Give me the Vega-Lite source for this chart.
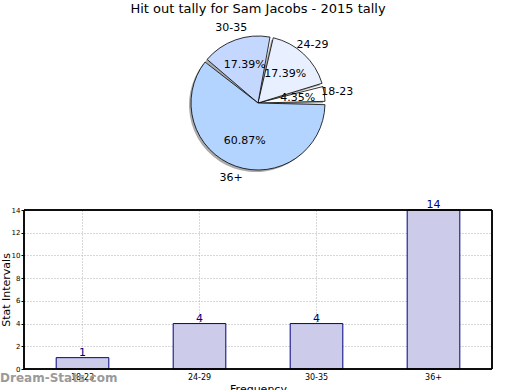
{
  "$schema": "https://vega.github.io/schema/vega-lite/v6.json",
  "padding": {"left": 0, "top": 2, "right": 0, "bottom": 0},
  "background": "white",
  "config": {
    "font": "DejaVu Sans",
    "view": {"stroke": null},
    "concat": {"spacing": 15}
  },
  "data": {
    "values": [
      {"idx": 1, "cat": "18-23", "count": 1, "pct": "4.35%"},
      {"idx": 2, "cat": "24-29", "count": 4, "pct": "17.39%"},
      {"idx": 3, "cat": "30-35", "count": 4, "pct": "17.39%"},
      {"idx": 4, "cat": "36+", "count": 14, "pct": "60.87%"}
    ]
  },
  "vconcat": [
    {
      "width": 468,
      "height": 150,
      "title": {"text": "Hit out tally for Sam Jacobs - 2015 tally", "fontSize": 13, "fontWeight": "normal", "color": "black", "offset": 6},
      "encoding": {
        "theta": {"field": "count", "type": "quantitative", "stack": true, "scale": {"range": [1.5708, -4.7124]}},
        "order": {"field": "idx", "type": "quantitative"}
      },
      "layer": [
        {
          "mark": {"type": "arc", "outerRadius": 67, "padAngle": 0.05, "fill": "#888888", "opacity": 0.7, "xOffset": -2, "yOffset": 2}
        },
        {
          "mark": {"type": "arc", "outerRadius": 67, "padAngle": 0.05, "stroke": "black", "strokeWidth": 0.8},
          "encoding": {
            "color": {"field": "cat", "type": "nominal", "legend": null,
              "scale": {"domain": ["18-23", "24-29", "30-35", "36+"], "range": ["#ffffff", "#e8f0ff", "#c4d8ff", "#b3d4ff"]}}
          }
        },
        {
          "mark": {"type": "text", "radius": 40, "fontSize": 11, "color": "black"},
          "encoding": {"text": {"field": "pct"}}
        },
        {
          "mark": {"type": "text", "radius": 80, "fontSize": 11, "color": "black"},
          "encoding": {"text": {"field": "cat"}}
        }
      ]
    },
    {
      "width": 468,
      "height": 159,
      "title": {"text": "Dream-Stats.com", "orient": "bottom", "anchor": "start", "frame": "bounds", "fontSize": 12, "fontWeight": "bold", "color": "#9a9a9a", "offset": -21},
      "encoding": {
        "x": {"field": "cat", "type": "nominal", "sort": null,
          "scale": {"paddingInner": 0, "paddingOuter": 0},
          "axis": {"title": "Frequency", "titleFontSize": 11, "titleFontWeight": "normal", "titlePadding": 2, "labelAngle": 0, "labelFontSize": 8, "labelColor": "black", "domain": false, "tickSize": 0, "labelPadding": 4,
            "grid": true, "gridDash": [1, 2], "gridColor": "#b0b0b0", "gridWidth": 1}},
        "y": {"field": "count", "type": "quantitative",
          "scale": {"domain": [0, 14], "nice": false},
          "axis": {"title": "Stat Intervals", "titleFontSize": 11, "titleFontWeight": "normal", "titlePadding": 0, "values": [0, 2, 4, 6, 8, 10, 12, 14], "labelFontSize": 7, "labelColor": "black", "domain": false, "tickSize": 3, "tickColor": "black", "labelPadding": 1,
            "grid": true, "gridDash": [1, 2], "gridColor": "#b0b0b0", "gridWidth": 1}}
      },
      "layer": [
        {
          "mark": {"type": "bar", "width": {"band": 0.45}, "fill": "#ccccea", "stroke": "#000080", "strokeWidth": 1}
        },
        {
          "mark": {"type": "text", "baseline": "bottom", "dy": 0, "fontSize": 11, "color": "#000080"},
          "encoding": {"text": {"field": "count", "type": "quantitative"}}
        },
        {
          "mark": {"type": "rect", "fill": null, "stroke": "black", "strokeWidth": 1},
          "encoding": {"x": {"value": 0}, "x2": {"value": 468}, "y": {"value": 0}, "y2": {"value": 159}}
        }
      ]
    }
  ]
}
